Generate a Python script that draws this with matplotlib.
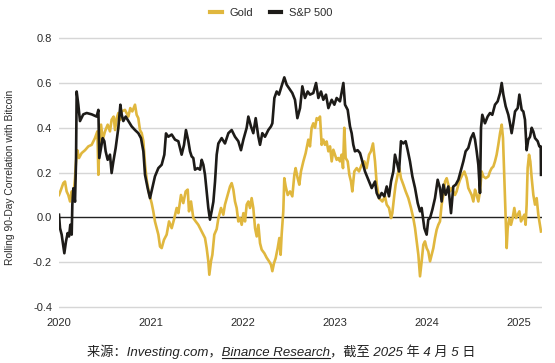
import matplotlib.pyplot as plt
from matplotlib.lines import Line2D

# x positions are years since 2020-01-01
year_ticks = [0, 1, 2, 3, 4, 5]
year_labels = ['2020', '2021', '2022', '2023', '2024', '2025']
y_ticks = [-0.4, -0.2, 0.0, 0.2, 0.4, 0.6, 0.8]

sp500_t = [0.000, 0.011, 0.029, 0.058, 0.076, 0.094, 0.109, 0.123, 0.138, 0.145,
           0.156, 0.174, 0.185, 0.192, 0.210, 0.228, 0.264, 0.301, 0.355, 0.409,
           0.428, 0.438, 0.457, 0.475, 0.493, 0.507, 0.529, 0.554, 0.572, 0.591,
           0.616, 0.645, 0.667, 0.681, 0.699, 0.725, 0.754, 0.790, 0.826, 0.862,
           0.891, 0.917, 0.935, 0.964, 0.989, 1.014, 1.043, 1.080, 1.116, 1.145,
           1.163, 1.188, 1.225, 1.261, 1.297, 1.333, 1.359, 1.380, 1.406, 1.424,
           1.442, 1.460, 1.478, 1.507, 1.533, 1.551, 1.569, 1.587, 1.605, 1.623,
           1.641, 1.659, 1.678, 1.696, 1.714, 1.732, 1.768, 1.804, 1.841, 1.877,
           1.913, 1.949, 1.978, 2.004, 2.040, 2.058, 2.087, 2.112, 2.138, 2.167,
           2.185, 2.210, 2.239, 2.275, 2.304, 2.319, 2.341, 2.366, 2.391, 2.413,
           2.449, 2.475, 2.511, 2.536, 2.565, 2.591, 2.620, 2.645, 2.674, 2.703,
           2.728, 2.764, 2.794, 2.819, 2.848, 2.873, 2.902, 2.928, 2.964, 2.993,
           3.018, 3.054, 3.091, 3.109, 3.138, 3.163, 3.181, 3.199, 3.217, 3.246,
           3.272, 3.297, 3.326, 3.362, 3.399, 3.435, 3.453, 3.478, 3.507, 3.536,
           3.562, 3.587, 3.609, 3.634, 3.652, 3.670, 3.696, 3.717, 3.743, 3.768,
           3.790, 3.815, 3.841, 3.870, 3.899, 3.924, 3.942, 3.971, 3.996, 4.014,
           4.033, 4.058, 4.087, 4.116, 4.141, 4.159, 4.178, 4.203, 4.232, 4.261,
           4.286, 4.312, 4.341, 4.370, 4.395, 4.420, 4.449, 4.478, 4.504, 4.522,
           4.540, 4.558, 4.576, 4.587, 4.601, 4.630, 4.659, 4.685, 4.710, 4.739,
           4.768, 4.794, 4.812, 4.830, 4.855, 4.884, 4.902, 4.920, 4.938, 4.957,
           4.986, 5.004, 5.029, 5.047, 5.065, 5.083, 5.101, 5.120, 5.138, 5.156,
           5.174, 5.203, 5.221, 5.236, 5.239]
sp500_corr = [0.012, -0.048, -0.077, -0.160, -0.107, -0.070, -0.085, -0.033, -0.077, 0.057,
              0.130, 0.070, 0.250, 0.562, 0.503, 0.430, 0.460, 0.466, 0.460, 0.450,
              0.480, 0.265, 0.310, 0.354, 0.340, 0.295, 0.257, 0.280, 0.198, 0.250,
              0.310, 0.400, 0.503, 0.460, 0.430, 0.450, 0.430, 0.406, 0.390, 0.376,
              0.354, 0.295, 0.190, 0.130, 0.086, 0.130, 0.183, 0.220, 0.235, 0.280,
              0.375, 0.360, 0.370, 0.347, 0.340, 0.280, 0.324, 0.390, 0.340, 0.295,
              0.272, 0.265, 0.213, 0.220, 0.213, 0.257, 0.235, 0.190, 0.116, 0.042,
              -0.010, 0.027, 0.070, 0.160, 0.280, 0.330, 0.354, 0.330, 0.376, 0.390,
              0.360, 0.340, 0.300, 0.347, 0.400, 0.450, 0.406, 0.376, 0.443, 0.360,
              0.324, 0.376, 0.360, 0.390, 0.406, 0.420, 0.533, 0.562, 0.548, 0.577,
              0.625, 0.592, 0.570, 0.555, 0.525, 0.443, 0.488, 0.585, 0.533, 0.562,
              0.548, 0.555, 0.600, 0.533, 0.562, 0.525, 0.548, 0.488, 0.525, 0.503,
              0.533, 0.518, 0.600, 0.503, 0.480, 0.406, 0.376, 0.324, 0.295, 0.300,
              0.287, 0.250, 0.205, 0.168, 0.131, 0.160, 0.109, 0.086, 0.109, 0.094,
              0.138, 0.094, 0.160, 0.205, 0.280, 0.250, 0.205, 0.340, 0.330, 0.340,
              0.300, 0.250, 0.183, 0.131, 0.064, 0.027, 0.042, -0.048, -0.077, -0.010,
              -0.003, 0.034, 0.086, 0.168, 0.131, 0.071, 0.146, 0.101, 0.138, 0.019,
              0.138, 0.146, 0.168, 0.213, 0.250, 0.295, 0.310, 0.354, 0.376, 0.347,
              0.295, 0.235, 0.109, 0.400, 0.458, 0.420, 0.450, 0.466, 0.458, 0.503,
              0.518, 0.555, 0.600, 0.548, 0.496, 0.458, 0.420, 0.376, 0.420, 0.473,
              0.488, 0.548, 0.480, 0.473, 0.436, 0.300, 0.347, 0.360, 0.400, 0.383,
              0.354, 0.340, 0.317, 0.317, 0.190]

gold_t = [0.000, 0.022, 0.047, 0.065, 0.083, 0.101, 0.120, 0.138, 0.156, 0.174,
          0.185, 0.199, 0.217, 0.246, 0.283, 0.319, 0.355, 0.391, 0.417, 0.428,
          0.438, 0.457, 0.475, 0.500, 0.529, 0.554, 0.572, 0.594, 0.609, 0.627,
          0.645, 0.667, 0.681, 0.717, 0.754, 0.775, 0.797, 0.826, 0.844, 0.862,
          0.880, 0.899, 0.917, 0.935, 0.953, 0.978, 1.007, 1.025, 1.043, 1.062,
          1.080, 1.098, 1.116, 1.141, 1.170, 1.196, 1.225, 1.254, 1.279, 1.297,
          1.326, 1.351, 1.377, 1.399, 1.413, 1.435, 1.460, 1.486, 1.514, 1.551,
          1.587, 1.605, 1.623, 1.634, 1.652, 1.667, 1.688, 1.714, 1.732, 1.761,
          1.786, 1.804, 1.833, 1.859, 1.877, 1.895, 1.913, 1.931, 1.949, 1.967,
          1.986, 2.004, 2.022, 2.040, 2.058, 2.076, 2.094, 2.112, 2.131, 2.149,
          2.167, 2.185, 2.203, 2.232, 2.257, 2.283, 2.304, 2.319, 2.337, 2.355,
          2.377, 2.395, 2.409, 2.420, 2.438, 2.449, 2.464, 2.486, 2.511, 2.536,
          2.558, 2.572, 2.594, 2.612, 2.630, 2.656, 2.681, 2.710, 2.728, 2.746,
          2.764, 2.783, 2.801, 2.819, 2.837, 2.855, 2.873, 2.891, 2.909, 2.928,
          2.946, 2.964, 2.982, 3.000, 3.018, 3.036, 3.054, 3.072, 3.087, 3.101,
          3.116, 3.138, 3.156, 3.174, 3.188, 3.210, 3.236, 3.261, 3.290, 3.319,
          3.344, 3.370, 3.391, 3.413, 3.435, 3.453, 3.478, 3.515, 3.543, 3.562,
          3.587, 3.609, 3.623, 3.645, 3.659, 3.681, 3.699, 3.717, 3.743, 3.768,
          3.797, 3.826, 3.851, 3.870, 3.888, 3.906, 3.924, 3.942, 3.960, 3.978,
          3.996, 4.014, 4.033, 4.051, 4.069, 4.087, 4.105, 4.123, 4.141, 4.159,
          4.178, 4.196, 4.214, 4.232, 4.250, 4.268, 4.304, 4.322, 4.341, 4.359,
          4.384, 4.406, 4.431, 4.449, 4.467, 4.485, 4.504, 4.522, 4.540, 4.558,
          4.576, 4.594, 4.612, 4.638, 4.667, 4.685, 4.703, 4.721, 4.739, 4.757,
          4.775, 4.794, 4.812, 4.826, 4.841, 4.855, 4.866, 4.877, 4.895, 4.913,
          4.931, 4.949, 4.967, 4.986, 5.004, 5.022, 5.040, 5.058, 5.072, 5.083,
          5.094, 5.109, 5.123, 5.138, 5.156, 5.174, 5.192, 5.210, 5.228, 5.239]
gold_corr = [0.100, 0.124, 0.153, 0.160, 0.116, 0.100, 0.071, 0.116, 0.094, 0.175,
             0.250, 0.300, 0.265, 0.287, 0.300, 0.317, 0.324, 0.354, 0.384, 0.190,
             0.324, 0.414, 0.347, 0.384, 0.414, 0.384, 0.436, 0.450, 0.390, 0.443,
             0.466, 0.436, 0.473, 0.480, 0.450, 0.488, 0.473, 0.503, 0.458, 0.443,
             0.390, 0.376, 0.340, 0.235, 0.168, 0.109, 0.064, 0.027, -0.018, -0.048,
             -0.077, -0.130, -0.137, -0.100, -0.077, -0.018, -0.048, -0.003, 0.042, 0.019,
             0.100, 0.064, 0.116, 0.124, 0.027, 0.071, -0.003, -0.018, -0.033, -0.063,
             -0.092, -0.137, -0.196, -0.256, -0.196, -0.167, -0.077, -0.052, -0.005, 0.042,
             0.012, 0.057, 0.100, 0.138, 0.153, 0.124, 0.071, 0.042, -0.018, -0.003,
             -0.033, 0.019, -0.018, 0.057, 0.071, 0.042, 0.086, 0.042, -0.048, -0.085,
             -0.033, -0.115, -0.144, -0.160, -0.180, -0.196, -0.211, -0.240, -0.204, -0.182,
             -0.137, -0.092, -0.167, -0.077, 0.027, 0.175, 0.138, 0.100, 0.116, 0.094,
             0.190, 0.220, 0.175, 0.146, 0.205, 0.250, 0.287, 0.347, 0.317, 0.400,
             0.420, 0.400, 0.443, 0.436, 0.450, 0.324, 0.347, 0.324, 0.339, 0.295,
             0.317, 0.250, 0.302, 0.280, 0.257, 0.265, 0.250, 0.280, 0.220, 0.400,
             0.265, 0.250, 0.190, 0.160, 0.116, 0.205, 0.220, 0.205, 0.235, 0.250,
             0.220, 0.280, 0.295, 0.330, 0.250, 0.150, 0.086, 0.071, 0.094, 0.057,
             0.042, -0.003, 0.019, 0.100, 0.146, 0.190, 0.220, 0.175, 0.146, 0.116,
             0.086, 0.042, -0.003, -0.048, -0.107, -0.167, -0.263, -0.196, -0.122, -0.107,
             -0.137, -0.152, -0.196, -0.167, -0.137, -0.092, -0.055, -0.033, -0.018, 0.057,
             0.100, 0.160, 0.175, 0.146, 0.116, 0.131, 0.100, 0.116, 0.146, 0.168,
             0.190, 0.205, 0.175, 0.131, 0.116, 0.100, 0.071, 0.124, 0.100, 0.071,
             0.116, 0.205, 0.183, 0.175, 0.183, 0.205, 0.220, 0.227, 0.250, 0.280,
             0.324, 0.376, 0.414, 0.354, 0.175, -0.003, -0.137, -0.048, -0.003, -0.033,
             -0.003, 0.042, -0.003, 0.012, 0.027, -0.018, -0.003, 0.012, -0.033, 0.057,
             0.220, 0.280, 0.250, 0.175, 0.100, 0.057, 0.086, 0.012, -0.033, -0.063]

gold_color = '#e0b73e'
sp_color = '#1d1b18'
text_color = '#2b2b2b'

plt.rcParams['font.family'] = ['Liberation Sans', 'Noto Sans CJK SC']
plt.rcParams['axes.unicode_minus'] = False

W, H = 555, 363
fig = plt.figure(figsize=(W / 100, H / 100), dpi=100)
ax = fig.add_axes([59 / W, (H - 309.24) / H, 483 / W, 273.3 / H])

for v in y_ticks:
    if v == 0:
        ax.axhline(v, color='#222222', lw=1.0, zorder=1.5)
    else:
        ax.axhline(v, color='#d6d6d6', lw=1.0, zorder=1)

ax.plot(gold_t, gold_corr, color=gold_color, lw=1.9, zorder=2)
ax.plot(sp500_t, sp500_corr, color=sp_color, lw=1.9, zorder=3)

ax.set_xlim(0, 5.25)
ax.set_ylim(-0.41, 0.81)
ax.set_xticks(year_ticks)
ax.set_xticklabels(year_labels)
ax.set_yticks(y_ticks)
ax.set_yticklabels([f'{v:.1f}' for v in y_ticks])
ax.tick_params(length=0, labelsize=8, colors=text_color)
ax.tick_params(axis='y', pad=5)
ax.tick_params(axis='x', pad=6)
for s in ax.spines.values():
    s.set_visible(False)

fig.text(10 / W, 1 - 177 / H, 'Rolling 90-Day Correlation with Bitcoin',
         rotation=90, ha='center', va='center', fontsize=7.4, color=text_color)

handles = [Line2D([], [], color=gold_color, lw=3), Line2D([], [], color=sp_color, lw=3)]
fig.legend(handles, ['Gold', 'S&P 500'], loc='center', bbox_to_anchor=(0.489, 1 - 13 / H),
           ncol=2, frameon=False, fontsize=8, handlelength=1.05, handletextpad=0.7,
           columnspacing=1.45, labelcolor=text_color)

# caption with underlined "Binance Research"
part1 = '来源：Investing.com，'
part2 = 'Binance Research'
part3 = '，截至 2025 年 4 月 5 日'
cap_kw = dict(fontsize=9.5, style='italic', color='#222222')
x0 = 87 / W
y_base = 1 - 356 / H
fig.text(x0, y_base, part1 + part2 + part3, va='baseline', **cap_kw)

fig.canvas.draw()
r = fig.canvas.get_renderer()


def text_width(s):
    t = fig.text(0, 0, s, **cap_kw)
    w = t.get_window_extent(r).width
    t.remove()
    return w


w1 = text_width(part1)
w12 = text_width(part1 + part2)
fig.add_artist(Line2D([x0 + w1 / W, x0 + w12 / W], [y_base - 1.8 / H] * 2,
                      color='#222222', lw=0.8))

fig.savefig('out.png', dpi=100)
